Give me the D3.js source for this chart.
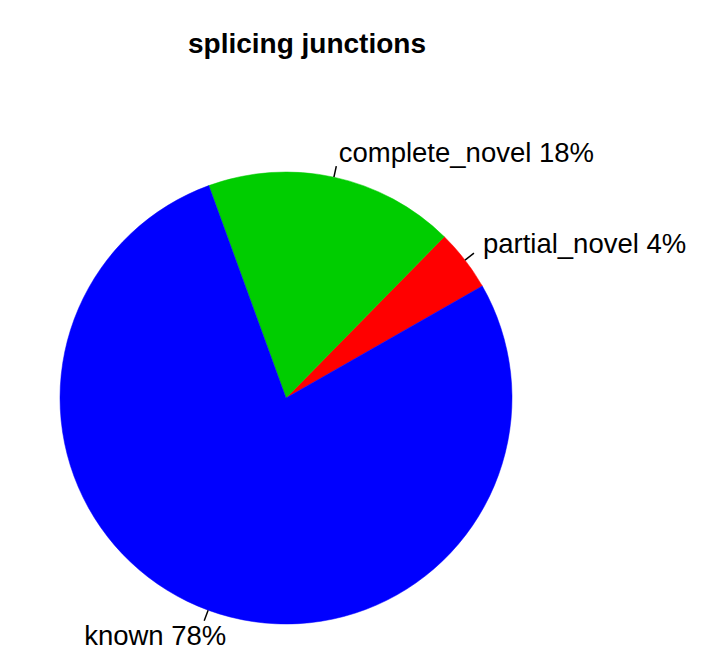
<!DOCTYPE html>
<html>
<head>
<meta charset="utf-8">
<script src="https://cdn.jsdelivr.net/npm/d3@7"></script>
<style>
  body { margin: 0; background: #fff; }
  text { font-family: "Liberation Sans", Arial, Helvetica, sans-serif; }
</style>
</head>
<body>
<svg id="pie"></svg>
<script>
const categories = ["partial_novel", "complete_novel", "known"]
const shares = [4.4, 17.9, 77.7]
const colours = ["#ff0000", "#00cd00", "#0000ff"]

const width = 711, height = 672
const cx = 286, cy = 398, radius = 226
const startDeg = 29.7   // R-style counter-clockwise start, degrees from 3 o'clock

const svg = d3.select("#pie")
  .attr("width", width)
  .attr("height", height)

svg.append("text")
  .attr("x", 307)
  .attr("y", 53)
  .attr("text-anchor", "middle")
  .style("font-size", "28px")
  .style("font-weight", "bold")
  .text("splicing junctions")

const data = categories.map((c, i) => ({name: c, value: shares[i], colour: colours[i]}))

const a0 = Math.PI / 2 - startDeg * Math.PI / 180
const pie = d3.pie()
  .sort(null)
  .value(d => d.value)
  .startAngle(a0)
  .endAngle(a0 - 2 * Math.PI)

const arc = d3.arc().innerRadius(0).outerRadius(radius)

const g = svg.append("g").attr("transform", `translate(${cx},${cy})`)
const arcs = pie(data)

g.selectAll("path")
  .data(arcs)
  .join("path")
  .attr("d", arc)
  .attr("fill", d => d.data.colour)
  .attr("stroke", d => d.data.colour)
  .attr("stroke-width", 0.5)

const mid = d => (d.startAngle + d.endAngle) / 2
const pt = (a, r) => [Math.sin(a) * r, -Math.cos(a) * r]

g.selectAll("line.tick")
  .data(arcs)
  .join("line")
  .attr("class", "tick")
  .attr("x1", d => pt(mid(d), radius)[0])
  .attr("y1", d => pt(mid(d), radius)[1])
  .attr("x2", d => pt(mid(d), radius * 1.05)[0])
  .attr("y2", d => pt(mid(d), radius * 1.05)[1])
  .attr("stroke", "#000")
  .attr("stroke-width", 1.5)

const fmt = d => d.data.name + " " + Math.round(d.data.value) + "%"

g.selectAll("text.lab")
  .data(arcs)
  .join("text")
  .attr("class", "lab")
  .attr("x", d => {
    const p = pt(mid(d), radius * 1.1)
    return p[0] < 0 ? p[0] + 26 : p[0]
  })
  .attr("y", d => {
    const p = pt(mid(d), radius * 1.1)
    return p[0] < 0 ? p[1] + 14 : p[1] + 7
  })
  .attr("text-anchor", d => pt(mid(d), 1)[0] < 0 ? "end" : "start")
  .style("font-size", "27.5px")
  .text(fmt)
</script>
</body>
</html>
